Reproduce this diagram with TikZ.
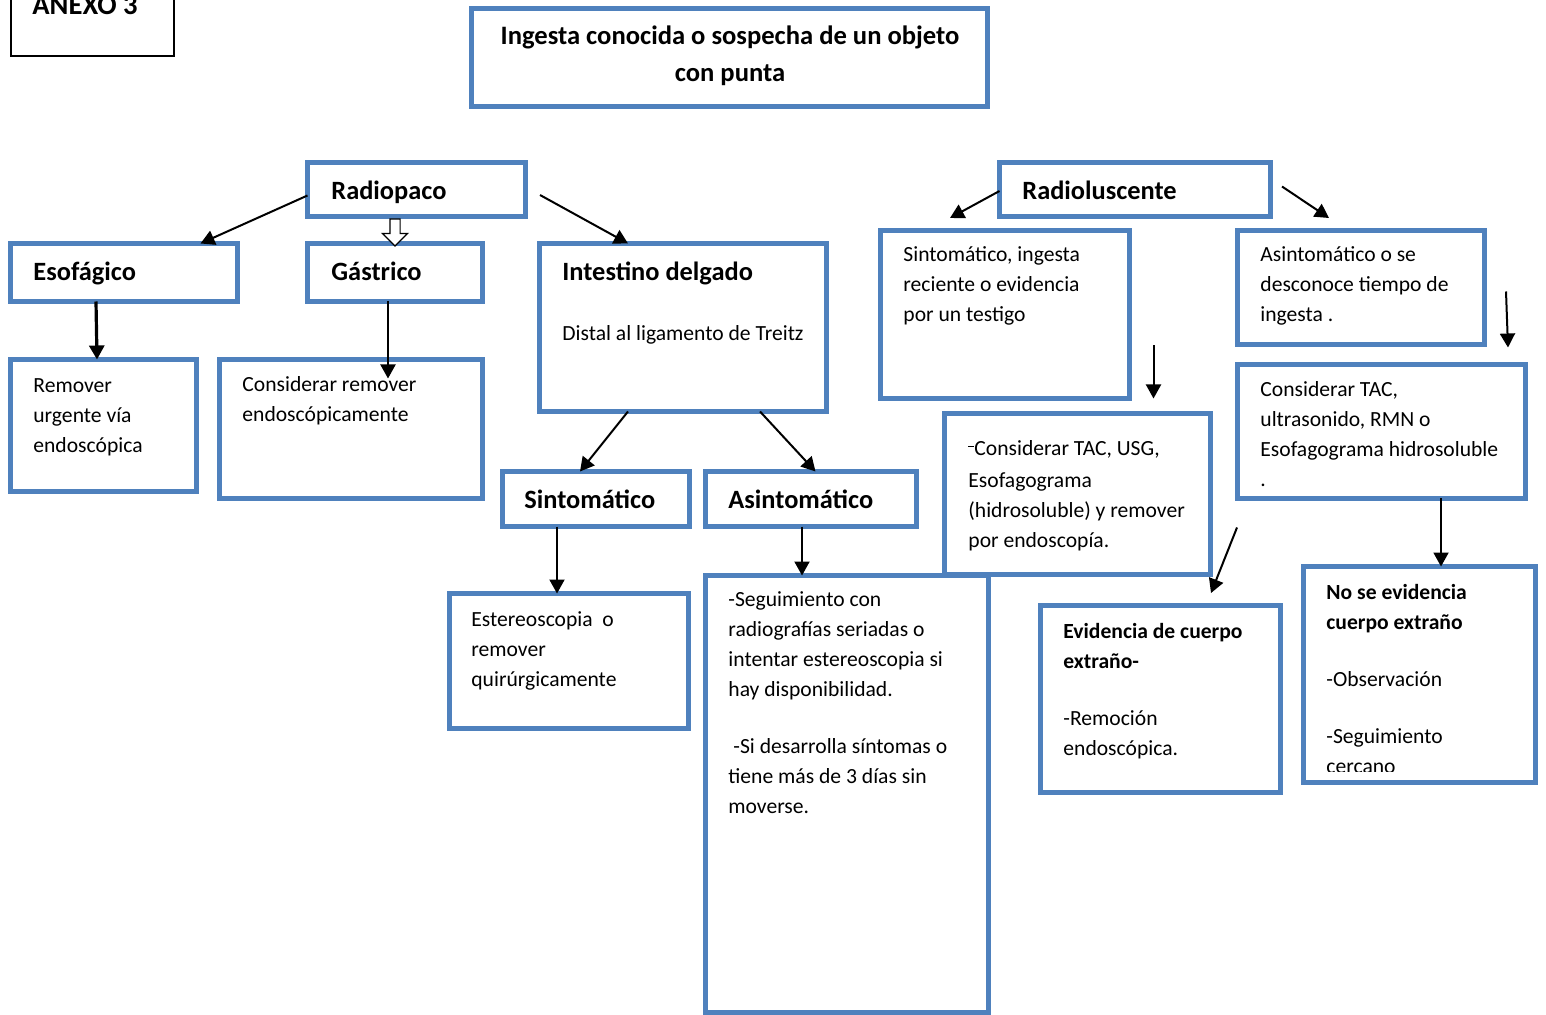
\documentclass[tikz,border=0pt]{standalone}
\usepackage{fontspec}
\setmainfont{Carlito}
\usetikzlibrary{arrows.meta, calc, shapes.arrows}
\definecolor{boxblue}{RGB}{79,129,189}
\newcommand{\bodyfont}{\fontsize{10.8}{15}\selectfont}
\newcommand{\headfont}{\fontsize{13.2}{16}\selectfont\bfseries}
\newcommand{\titlefont}{\fontsize{13.3}{18.5}\selectfont\bfseries}
\tikzset{
  bluebox/.style={rectangle, draw=boxblue, line width=2.5pt, inner sep=0pt,
    outer sep=0pt, anchor=north west},
  headtext/.style={anchor=base west, inner sep=0pt, font=\headfont},
  % multi-line texts are placed at the baseline of their last line
  bodytext/.style={anchor=base west, inner sep=0pt, align=left, font=\bodyfont},
  arrow/.style={-{Triangle[length=7pt,width=7.5pt]}, line width=1pt, color=black}
}

\begin{document}
\begin{tikzpicture}[x=0.5pt, y=-0.5pt]
  \useasboundingbox (0,0) rectangle (1546,1015);
  \clip (0,0) rectangle (1546,1015);

  % Boxes
  \node[draw=black, line width=1pt, inner sep=0pt, outer sep=0pt, anchor=north west,
    minimum width=81.5pt, minimum height=48pt] (anexo) at (11,-40) {};
  \node[bluebox, minimum width=258pt, minimum height=49pt] (title) at (471.5,8.5) {};
  \node[bluebox, minimum width=109pt, minimum height=27pt] (radiopaco) at (307.5,162.5) {};
  \node[bluebox, minimum width=113.5pt, minimum height=29pt] (esof) at (10.5,243.5) {};
  \node[bluebox, minimum width=87.5pt, minimum height=29pt] (gastrico) at (307.5,243.5) {};
  \node[bluebox, minimum width=143.5pt, minimum height=84pt] (intestino) at (539.5,243.5) {};
  \node[bluebox, minimum width=93pt, minimum height=66pt] (remover) at (10.5,359.5) {};
  \node[bluebox, minimum width=131.5pt, minimum height=69.5pt] (considerar) at (219.5,359.5) {};
  \node[bluebox, minimum width=93.5pt, minimum height=27.5pt] (sintom) at (502.5,471.5) {};
  \node[bluebox, minimum width=105.5pt, minimum height=27.5pt] (asintom) at (705.5,471.5) {};
  \node[bluebox, minimum width=119.5pt, minimum height=67.5pt] (estereo) at (449.5,593.5) {};
  \node[bluebox, minimum width=141.5pt, minimum height=218.5pt] (seguim) at (705.5,575.5) {};
  \node[bluebox, minimum width=135.5pt, minimum height=27pt] (radiolus) at (999.5,162.5) {};
  \node[bluebox, minimum width=124.5pt, minimum height=84pt] (sintrl) at (880.5,230.5) {};
  \node[bluebox, minimum width=123.5pt, minimum height=57pt] (asintrl) at (1237.5,230.5) {};
  \node[bluebox, minimum width=133pt, minimum height=80.5pt] (tacusg) at (944.5,413.5) {};
  \node[bluebox, minimum width=144pt, minimum height=67pt] (tacrmn) at (1237.5,364.5) {};
  \node[bluebox, minimum width=120pt, minimum height=93.5pt] (evid) at (1040.5,605.5) {};
  \node[bluebox, minimum width=116pt, minimum height=108pt] (noevid) at (1303.5,566.5) {};

  % Texts
  \node[anchor=base west, inner sep=0pt, font=\fontsize{14.3}{16}\selectfont\bfseries]
    (tanexo) at (32,15) {ANEXO 3};
  \node[anchor=base, align=center, inner sep=0pt, font=\titlefont] (ttitle) at (730,82)
    {Ingesta conocida o sospecha de un objeto\\con punta};
  \node[headtext] (tradiopaco) at (331,200) {Radiopaco};
  \node[headtext] (tesof) at (33,281) {Esofágico};
  \node[headtext] (tgastrico) at (331,281) {Gástrico};
  \node[headtext] (tintestino) at (562,281) {Intestino delgado};
  \node[bodytext] (tdistal) at (562,341) {Distal al ligamento de Treitz};
  \node[bodytext] (tremover) at (33,453) {Remover\\urgente vía\\endoscópica};
  \node[bodytext] (tconsiderar) at (242,422) {Considerar remover\\endoscópicamente};
  \node[headtext] (tsintom) at (524,509) {Sintomático};
  \node[headtext] (tasintom) at (728,509) {Asintomático};
  \node[bodytext] (testereo) at (471,686) {Estereoscopia~~o\\remover\\quirúrgicamente};
  \node[bodytext] (tseguim) at (728,813) {-Seguimiento con\\radiografías seriadas o\\
    intentar estereoscopia si\\hay disponibilidad.\\[13.5pt]
    \hspace*{2.5pt}-Si desarrolla síntomas o\\tiene más de 3 días sin\\moverse.};
  \node[headtext] (tradiolus) at (1022,200) {Radioluscente};
  \node[bodytext] (tsintrl) at (903,322) {Sintomático, ingesta\\reciente o evidencia\\por un testigo};
  \node[bodytext] (tasintrl) at (1260,322) {Asintomático o se\\desconoce tiempo de\\ingesta .};
  \node[bodytext] (ttacusg) at (968,547) {\rule[3.8pt]{3pt}{0.8pt}Considerar TAC, USG,\\[1pt]Esofagograma\\
    (hidrosoluble) y remover\\por endoscopía.};
  \node[bodytext] (ttacrmn) at (1260,487) {Considerar TAC,\\ultrasonido, RMN o\\
    Esofagograma hidrosoluble\\.};
  \node[bodytext] (tevid) at (1063,755) {\textbf{Evidencia de cuerpo}\\\textbf{extraño-}\\[13.5pt]
    -Remoción\\endoscópica.};
  \begin{scope}
    \clip (noevid.north west) rectangle ($(noevid.south east)+(0,-11)$);
    \node[bodytext] (tnoevid) at (1326,773) {\textbf{No se evidencia}\\\textbf{cuerpo extraño}\\[13.5pt]
      -Observación\\[13.5pt]-Seguimiento\\cercano};
  \end{scope}

  % Paths
  \draw[arrow] ([yshift=-3pt]radiopaco.west) -- ($(esof.north west)+(190,0)$);
  \node[single arrow, draw=black, fill=white, line width=0.6pt, inner sep=2.25pt,
    minimum height=13.5pt, single arrow head extend=3.75pt, shape border rotate=270]
    (hollowarr) at ($(radiopaco.south -| gastrico.north)!0.5!(gastrico.north)$) {};
  \draw[arrow] ($(radiopaco.east)+(14.5,5.5)$) -- ($(intestino.north west)+(88.5,0)$);
  \draw[arrow, line width=1.6pt] ($(esof.south west)+(85.5,0)$) -- ($(remover.north west)+(86.5,0)$);
  \draw[arrow] ($(gastrico.south west)+(80.5,0)$) -- ($(considerar.north west)+(168.5,19)$);
  \draw[arrow] ($(intestino.south west)+(88.5,0)$) -- ($(sintom.north west)+(77.5,0)$);
  \draw[arrow] ($(intestino.south west)+(220.5,0)$) -- ($(asintom.north west)+(110,0)$);
  \draw[arrow] ($(sintom.south west)+(54.5,0)$) -- ($(estereo.north west)+(107.5,0)$);
  \draw[arrow] ($(asintom.south west)+(96.5,0)$) -- ($(seguim.north west)+(96.5,0)$);
  \draw[arrow] ([yshift=-0.75pt]radiolus.west) -- ($(sintrl.north west)+(69.5,-12.5)$);
  \draw[arrow] ($(radiolus.east)+(11.5,-3)$) -- ($(asintrl.north west)+(91.5,-12.5)$);
  \draw[arrow] ($(asintrl.east)+(21.5,4)$) -- ($(asintrl.east)+(23.5,60)$);
  \draw[arrow] ($(tacusg.north west)+(209,-68)$) -- ($(tacusg.north west)+(209,-15)$);
  \draw[arrow] ($(tacusg.south east)+(26.5,-47)$) -- ($(tacusg.south east)+(0.5,18.5)$);
  \draw[arrow] ($(tacrmn.south west)+(203.5,0)$) -- ($(noevid.north west)+(137.5,0)$);
\end{tikzpicture}
\end{document}
